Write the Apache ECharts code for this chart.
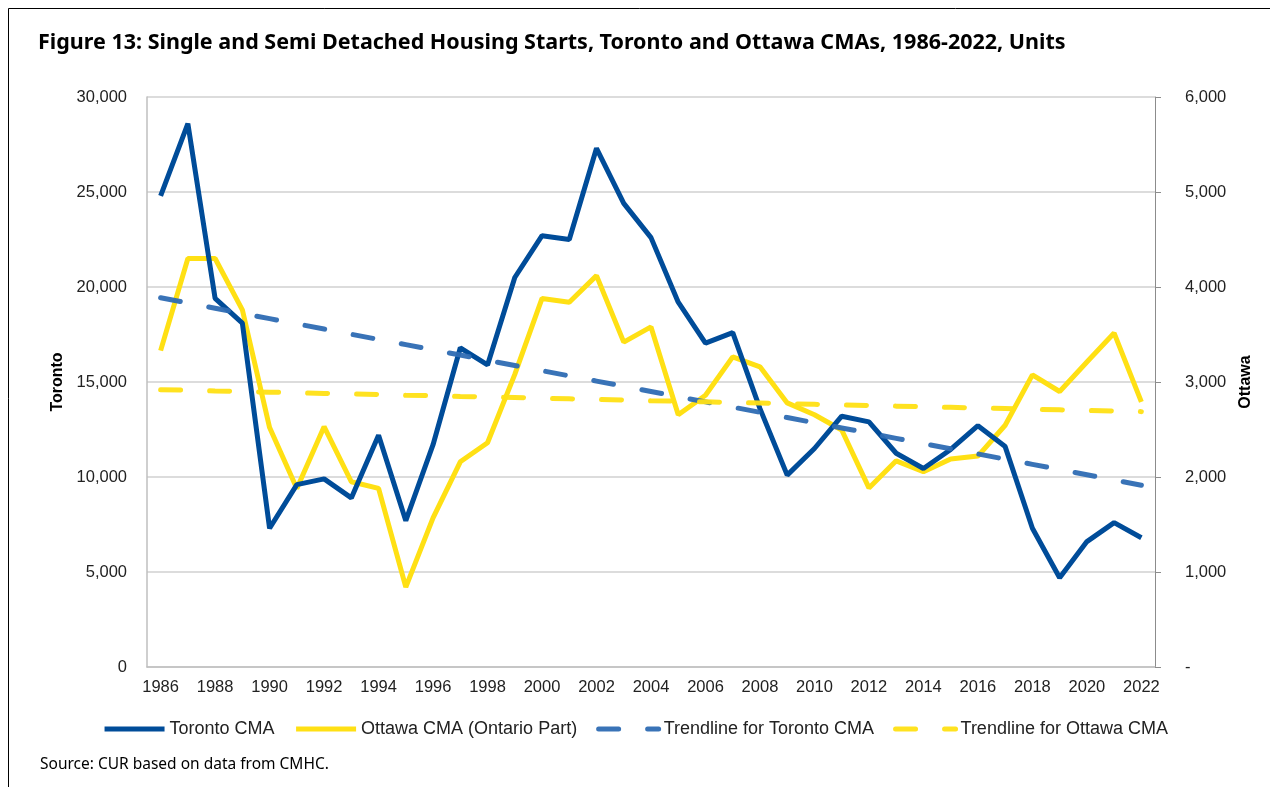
<!DOCTYPE html>
<html>
<head>
<meta charset="utf-8">
<script src="https://cdn.jsdelivr.net/npm/echarts@6/dist/echarts.min.js"></script>
<style>
  html, body { margin: 0; padding: 0; background: #fff; }
  #chart { width: 1270px; height: 787px; }
</style>
</head>
<body>
<div id="chart"></div>
<script>
// years on the x axis
const years = [];
for (let y = 1986; y <= 2022; y++) years.push(String(y));

// Toronto CMA single + semi starts (left axis)
const toronto = [24800, 28600, 19400, 18100, 7300, 9600, 9900, 8900, 12200, 7700,
  11700, 16800, 15900, 20500, 22700, 22500, 27300, 24400, 22600, 19200,
  17050, 17600, 13600, 10100, 11500, 13200, 12900, 11250, 10450, 11450,
  12700, 11600, 7300, 4700, 6600, 7600, 6800];

// Ottawa CMA (Ontario part) starts (right axis)
const ottawa = [3330, 4300, 4300, 3760, 2520, 1880, 2530, 1950, 1880, 840,
  1570, 2160, 2360, 3080, 3880, 3840, 4120, 3420, 3580, 2655,
  2860, 3265, 3160, 2780, 2655, 2495, 1885, 2170, 2055, 2190,
  2220, 2545, 3075, 2900, 3210, 3515, 2790];

const leftTicks = { min: 0, max: 30000, interval: 5000 };
const rightTicks = { min: 0, max: 6000, interval: 1000 };

// linear trendline (least squares) like Excel does it
function trend(vals) {
    const n = vals.length;
    let sx = 0, sy = 0, sxy = 0, sxx = 0;
    vals.forEach(function (v, i) {
        sx += i; sy += v; sxy += i * v; sxx += i * i;
    });
    const b = (n * sxy - sx * sy) / (n * sxx - sx * sx);
    const a = (sy - b * sx) / n;
    return vals.map(function (v, i) { return Math.round(a + b * i); });
}

const fmt = function (v) {
    return v.toLocaleString('en-US');
};

const chart = echarts.init(document.getElementById('chart'));

const labelFont = 'Liberation Sans, Arial, sans-serif';

chart.setOption({
    animation: false,
    backgroundColor: '#fff',
    textStyle: { fontFamily: labelFont },
    title: {
        text: 'Figure 13: Single and Semi Detached Housing Starts, Toronto and Ottawa CMAs, 1986-2022, Units',
        left: 33,
        top: 27,
        textStyle: {
            fontFamily: 'Noto Sans, sans-serif',
            fontWeight: 'bold',
            fontSize: 21.5,
            color: '#000'
        }
    },
    graphic: [{
        type: 'rect',
        shape: { x: 8.5, y: 8.5, width: 1300, height: 800 },
        style: { fill: null, stroke: '#000', lineWidth: 1 }
    }, {
        type: 'text',
        left: 40,
        top: 757,
        style: {
            text: 'Source: CUR based on data from CMHC.',
            font: '15.5px "Noto Sans", sans-serif',
            fill: '#000'
        }
    }],
    grid: { left: 147, right: 115, top: 97, bottom: 120 },
    legend: {
        bottom: 44,
        left: 'center',
        itemWidth: 60,
        itemHeight: 10,
        itemGap: 19,
        itemStyle: { opacity: 0 },
        lineStyle: { width: 5 },
        textStyle: { fontSize: 18, color: '#222', fontFamily: labelFont },
        data: ['Toronto CMA', 'Ottawa CMA (Ontario Part)', 'Trendline for Toronto CMA', 'Trendline for Ottawa CMA']
    },
    xAxis: {
        type: 'category',
        data: years,
        boundaryGap: true,
        axisLine: { lineStyle: { color: '#bfbfbf', width: 1.5 } },
        axisTick: { show: false },
        axisLabel: { interval: 1, fontSize: 16.5, color: '#222', margin: 12 }
    },
    yAxis: [{
        type: 'value',
        name: 'Toronto',
        nameLocation: 'middle',
        nameRotate: 90,
        nameGap: 75,
        nameTextStyle: { fontWeight: 'bold', fontSize: 16, color: '#000' },
        min: leftTicks.min,
        max: leftTicks.max,
        interval: leftTicks.interval,
        axisLine: { show: true, lineStyle: { color: '#bfbfbf', width: 1.5 } },
        axisTick: { show: false },
        splitLine: { lineStyle: { color: '#d0d0d0', width: 1.5 } },
        axisLabel: { fontSize: 16.5, color: '#222', margin: 20, formatter: fmt }
    }, {
        type: 'value',
        name: 'Ottawa',
        nameLocation: 'middle',
        nameRotate: 90,
        nameGap: 80,
        nameTextStyle: { fontWeight: 'bold', fontSize: 16, color: '#000' },
        min: rightTicks.min,
        max: rightTicks.max,
        interval: rightTicks.interval,
        axisLine: { show: true, lineStyle: { color: '#8c8c8c', width: 1 } },
        axisTick: { show: true, length: 6, lineStyle: { color: '#8c8c8c' } },
        splitLine: { show: false },
        axisLabel: {
            fontSize: 16.5, color: '#222', margin: 30,
            formatter: function (v) { return v === 0 ? '-' : fmt(v); }
        }
    }],
    series: [{
        name: 'Toronto CMA',
        type: 'line',
        data: toronto,
        yAxisIndex: 0,
        symbol: 'none',
        z: 4,
        lineStyle: { color: '#004c99', width: 5 },
        itemStyle: { color: '#004c99' }
    }, {
        name: 'Ottawa CMA (Ontario Part)',
        type: 'line',
        data: ottawa,
        yAxisIndex: 1,
        symbol: 'none',
        z: 3,
        lineStyle: { color: '#ffe014', width: 5 },
        itemStyle: { color: '#ffe014' }
    }, {
        name: 'Trendline for Toronto CMA',
        type: 'line',
        data: trend(toronto),
        yAxisIndex: 0,
        symbol: 'none',
        z: 5,
        lineStyle: { color: '#2e6cb3', width: 5, type: [20, 29], cap: 'round', opacity: 0.95 },
        itemStyle: { color: '#2e6cb3' }
    }, {
        name: 'Trendline for Ottawa CMA',
        type: 'line',
        data: trend(ottawa),
        yAxisIndex: 1,
        symbol: 'none',
        z: 5,
        lineStyle: { color: '#ffe014', width: 5, type: [20, 29], cap: 'round', opacity: 0.95 },
        itemStyle: { color: '#ffe014' }
    }]
});
</script>
</body>
</html>
